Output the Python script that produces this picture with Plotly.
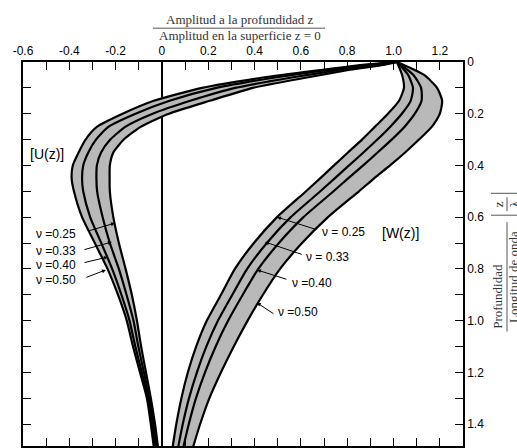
import plotly.graph_objects as go

# NOTE: depth values (z / wavelength) shared by the horizontal (U) curves
u_depth = [0, 0.01, 0.03, 0.06, 0.1, 0.15, 0.2, 0.25, 0.3, 0.35, 0.4, 0.45,
           0.5, 0.6, 0.7, 0.8, 0.9, 1.0, 1.1, 1.2, 1.3, 1.4, 1.49]
u_025 = [1.015, 0.963, 0.812, 0.626, 0.393, 0.207, 0.03, -0.09, -0.165, -0.21,
         -0.225, -0.226, -0.225, -0.21, -0.186, -0.157, -0.13, -0.108, -0.09,
         -0.069, -0.048, -0.03, -0.017]
u_033 = [1.015, 0.933, 0.771, 0.56, 0.316, 0.122, -0.04, -0.157, -0.223, -0.263,
         -0.281, -0.283, -0.28, -0.256, -0.225, -0.186, -0.153, -0.123, -0.102,
         -0.078, -0.054, -0.036, -0.023]
u_040 = [1.015, 0.901, 0.728, 0.489, 0.235, 0.033, -0.114, -0.23, -0.285, -0.318,
         -0.34, -0.345, -0.34, -0.31, -0.262, -0.215, -0.175, -0.14, -0.115,
         -0.087, -0.06, -0.043, -0.03]
u_050 = [1.015, 0.877, 0.695, 0.436, 0.173, -0.035, -0.17, -0.28, -0.33, -0.36,
         -0.385, -0.39, -0.38, -0.345, -0.29, -0.235, -0.19, -0.152, -0.125,
         -0.095, -0.065, -0.048, -0.035]

# NOTE: depth values for the vertical (W) curves
w_depth = [0, 0.05, 0.1, 0.15, 0.2, 0.25, 0.3, 0.35, 0.4, 0.45, 0.5, 0.6, 0.7,
           0.8, 0.9, 1.0, 1.1, 1.2, 1.3, 1.4, 1.49]
w_025 = [1.015, 1.037, 1.045, 1.024, 0.976, 0.92, 0.864, 0.803, 0.743, 0.683,
         0.622, 0.497, 0.397, 0.315, 0.255, 0.194, 0.148, 0.112, 0.084, 0.062, 0.046]
w_033 = [1.015, 1.063, 1.084, 1.074, 1.036, 0.986, 0.93, 0.87, 0.808, 0.746,
         0.684, 0.556, 0.453, 0.368, 0.304, 0.242, 0.192, 0.151, 0.117, 0.09, 0.07]
w_040 = [1.015, 1.086, 1.119, 1.121, 1.092, 1.048, 0.992, 0.931, 0.869, 0.804,
         0.741, 0.611, 0.505, 0.416, 0.349, 0.286, 0.232, 0.186, 0.147, 0.116, 0.092]
w_050 = [1.015, 1.132, 1.188, 1.21, 1.2, 1.166, 1.11, 1.05, 0.985, 0.916, 0.851,
         0.717, 0.605, 0.51, 0.436, 0.37, 0.31, 0.255, 0.205, 0.165, 0.134]

x_ticks = [-0.6, -0.5, -0.4, -0.3, -0.2, -0.1, 0, 0.1, 0.2, 0.3, 0.4, 0.5, 0.6,
           0.7, 0.8, 0.9, 1.0, 1.1, 1.2]
x_labels = ["-0.6", "", "-0.4", "", "-0.2", "", "0", "", "0.2", "", "0.4", "",
            "0.6", "", "0.8", "", "1.0", "", "1.2"]
y_ticks = [0, 0.1, 0.2, 0.3, 0.4, 0.5, 0.6, 0.7, 0.8, 0.9, 1.0, 1.1, 1.2, 1.3, 1.4]
y_labels = ["0", "", "0.2", "", "0.4", "", "0.6", "", "0.8", "", "1.0", "",
            "1.2", "", "1.4"]

u_nu_labels = ["\u03bd =0.25", "\u03bd =0.33", "\u03bd =0.40", "\u03bd =0.50"]
w_nu_labels = ["\u03bd = 0.25", "\u03bd = 0.33", "\u03bd =0.40", "\u03bd =0.50"]
# NOTE: (tip x, tip y, tail x, tail y, label x, label y) for the arrows
u_arrows = [(-0.203, 0.623, -0.32, 0.654, -0.553, 0.665),
            (-0.216, 0.696, -0.341, 0.727, -0.553, 0.731),
            (-0.233, 0.754, -0.341, 0.777, -0.553, 0.785),
            (-0.242, 0.804, -0.333, 0.835, -0.553, 0.842)]
w_arrows = [(0.497, 0.6, 0.674, 0.65, 0.683, 0.658),
            (0.445, 0.696, 0.61, 0.746, 0.612, 0.754),
            (0.41, 0.804, 0.544, 0.842, 0.553, 0.854),
            (0.41, 0.931, 0.488, 0.977, 0.492, 0.967)]

fig = go.Figure()

# NOTE: grey bands between the outer curves
for left, right, depth in [(u_050, u_025, u_depth), (w_025, w_050, w_depth)]:
    fig.add_trace(go.Scatter(x=left + right[::-1], y=depth + depth[::-1],
                             fill="toself", fillcolor="#b9b9b9",
                             line=dict(width=0, shape="spline", smoothing=0.6),
                             mode="lines", hoverinfo="skip"))

for series, depth in [(u_025, u_depth), (u_033, u_depth), (u_040, u_depth),
                      (u_050, u_depth), (w_025, w_depth), (w_033, w_depth),
                      (w_040, w_depth), (w_050, w_depth)]:
    fig.add_trace(go.Scatter(x=series, y=depth, mode="lines",
                             line=dict(color="black", width=2.2,
                                       shape="spline", smoothing=0.6)))

label_font = dict(family="Liberation Sans, Arial", size=12, color="black")
for arrows, labels in [(u_arrows, u_nu_labels), (w_arrows, w_nu_labels)]:
    for (tx, ty, ax, ay, lx, ly), txt in zip(arrows, labels):
        fig.add_annotation(x=tx, y=ty, ax=ax, ay=ay, axref="x", ayref="y",
                           text="", showarrow=True, arrowhead=2,
                           arrowsize=0.8, arrowwidth=1, arrowcolor="black")
        fig.add_annotation(x=lx, y=ly, text=txt, showarrow=False,
                           xanchor="left", yanchor="middle", font=label_font)

fig.add_annotation(x=-0.497, y=0.354, text="[U(z)]", showarrow=False,
                   font=dict(family="Liberation Sans, Arial", size=14, color="black"))
fig.add_annotation(x=1.03, y=0.66, text="[W(z)]", showarrow=False,
                   font=dict(family="Liberation Sans, Arial", size=14, color="black"))

# NOTE: title as a fraction above the chart
serif = dict(family="Liberation Serif, Times New Roman", size=13, color="#333333")
fig.add_annotation(xref="paper", yref="paper", x=0.493, y=1.0+43/386,
                   text="Amplitud a la profundidad z", showarrow=False,
                   font=serif, xanchor="center", yanchor="middle")
fig.add_annotation(xref="paper", yref="paper", x=0.493, y=1.0+27/386,
                   text="Amplitud en la superficie z = 0", showarrow=False,
                   font=serif, xanchor="center", yanchor="middle")
fig.add_shape(type="line", xref="paper", yref="paper", x0=130/440, x1=302/440,
              y0=1.0+34/386, y1=1.0+34/386, line=dict(color="#555555", width=1))

# NOTE: rotated depth label on the right, partly cut off by the page edge
side_labels = [(475, 150, "Profundidad"), (491, 170, "Longitud de onda"),
               (475, 243, "z"), (491, 243, "\u03bb")]
for px, py, txt in side_labels:
    fig.add_annotation(xref="paper", yref="paper", x=px/440, y=py/386,
                       text=txt, textangle=-90, showarrow=False, font=serif,
                       xanchor="center", yanchor="middle")
fig.add_shape(type="line", xref="paper", yref="paper", x0=484/440, x1=484/440,
              y0=115/386, y1=225/386, line=dict(color="#555555", width=1))
fig.add_shape(type="line", xref="paper", yref="paper", x0=484/440, x1=484/440,
              y0=236/386, y1=250/386, line=dict(color="#555555", width=1))
for yb in [232, 254]:
    fig.add_shape(type="line", xref="paper", yref="paper", x0=468/440, x1=500/440,
                  y0=yb/386, y1=yb/386, line=dict(color="#555555", width=1))

axis_common = dict(showline=True, linecolor="black", linewidth=1.5,
                   mirror="ticks", ticks="inside", ticklen=8, tickwidth=1.2,
                   tickcolor="black", showgrid=False,
                   tickfont=dict(family="Liberation Sans, Arial", size=12,
                                 color="black"))
fig.update_xaxes(range=[-0.6, 1.3], side="top", tickmode="array",
                 tickvals=x_ticks, ticktext=x_labels, zeroline=True,
                 zerolinecolor="black", zerolinewidth=1.5, **axis_common)
fig.update_yaxes(range=[1.485, 0], side="right", tickmode="array",
                 tickvals=y_ticks, ticktext=y_labels, zeroline=False,
                 **axis_common)

fig.update_layout(width=517, height=448, showlegend=False,
                  plot_bgcolor="white", paper_bgcolor="white",
                  margin=dict(l=23, r=54, t=62, b=0))

# NOTE: drop the default body margin so the 517x448 figure fills the window
fig.write_html("out.html", config={"displayModeBar": False},
               post_script="document.body.style.margin='0px';"
                           "document.body.style.overflow='hidden';")
